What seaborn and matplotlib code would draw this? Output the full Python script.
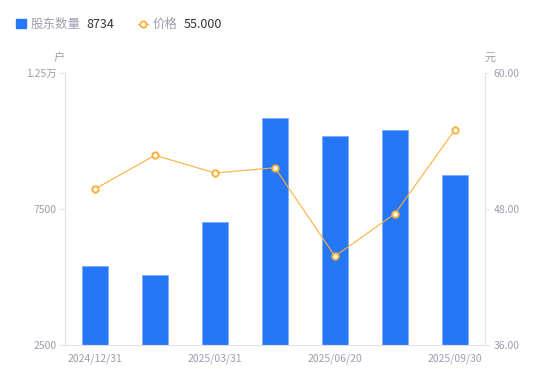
#!/usr/bin/env python3

import matplotlib
matplotlib.use("Agg")
import matplotlib.pyplot as plt
from matplotlib.patches import Patch
from matplotlib.lines import Line2D
from matplotlib.ticker import FixedLocator, FuncFormatter
import seaborn as sns

# Data
dates = ["2024/12/31", "2025/02/28", "2025/03/31", "2025/04/30",
         "2025/06/20", "2025/08/31", "2025/09/30"]
holders = [5415, 5074, 7011, 10835, 10184, 10393, 8734]
prices = [49.76, 52.74, 51.18, 51.64, 43.83, 47.59, 55.00]

left_ticks = [2500, 7500, 12500]
right_ticks = [36.0, 48.0, 60.0]

BLUE = "#2677f5"
ORANGE = "#fbb03b"
GREY = "#9d9db0"
DARK = "#333333"
SPINE = "#e3e3e8"

sns.set_style("white")
plt.rcParams['font.family'] = ['Noto Sans CJK SC', 'DejaVu Sans']

fig = plt.figure(figsize=(5.5, 3.81), dpi=100)
ax = fig.add_axes([65 / 550, 36 / 381, 420 / 550, 272 / 381])

# ==================== bars: shareholder count ====================
sns.barplot(x=dates, y=holders, color=BLUE, saturation=1, width=0.42,
            edgecolor="#7aaeff", linewidth=0.6, ax=ax)
ax.set_ylim(left_ticks[0], left_ticks[-1])
ax.set_xlim(-0.5, len(dates) - 0.5)

# ==================== line: price ====================
ax2 = ax.twinx()
sns.lineplot(x=dates, y=prices, sort=False, color=ORANGE, linewidth=0.8,
             marker="o", markersize=4.5, markerfacecolor="white",
             markeredgecolor=ORANGE, markeredgewidth=1.4, ax=ax2)
ax2.set_ylim(right_ticks[0], right_ticks[-1])
ax.set_xlim(-0.5, len(dates) - 0.5)

# axes styling
for a in (ax, ax2):
    for s in a.spines.values():
        s.set_visible(False)
    a.set_xlabel("")
    a.set_ylabel("")
    a.grid(False)

ax.spines["left"].set_visible(True)
ax.spines["left"].set_color(SPINE)
ax.spines["bottom"].set_visible(True)
ax.spines["bottom"].set_color(SPINE)
ax2.spines["right"].set_visible(True)
ax2.spines["right"].set_color(SPINE)

def fmt_left(v, pos):
    if v >= 10000:
        return f"{v / 10000:g}万"
    return f"{int(v)}"

ax.yaxis.set_major_locator(FixedLocator(left_ticks))
ax.yaxis.set_major_formatter(FuncFormatter(fmt_left))
ax2.yaxis.set_major_locator(FixedLocator(right_ticks))
ax2.yaxis.set_major_formatter(FuncFormatter(lambda v, p: f"{v:.2f}"))

ax.set_xticks(range(0, len(dates), 2))
ax.set_xticklabels(dates[::2])

ax.tick_params(axis="y", length=4, width=0.8, color=SPINE, pad=2,
               labelsize=7.5, labelcolor=GREY, left=True)
ax.tick_params(axis="x", length=0, pad=6, labelsize=7.5, labelcolor=GREY)
ax2.tick_params(axis="y", length=3, width=0.8, color=SPINE, pad=3,
                labelsize=7.5, labelcolor=GREY, right=True)

ax.text(-0.015, 1.055, "户", transform=ax.transAxes, ha="center",
        va="center", fontsize=8, color=GREY)
ax2.text(1.012, 1.055, "元", transform=ax2.transAxes, ha="center",
         va="center", fontsize=8, color=GREY)

# ==================== legend ====================
handles = [
    Patch(facecolor=BLUE, edgecolor=BLUE),
    Line2D([0], [0], color=ORANGE, linewidth=1, marker="o", markersize=4.5,
           markerfacecolor="white", markeredgecolor=ORANGE,
           markeredgewidth=1.3),
]
leg = fig.legend(handles, ["股东数量", "价格"], loc="upper left",
                 bbox_to_anchor=(5 / 550, 1 - 7 / 381), ncol=2,
                 frameon=False, fontsize=9, handlelength=0.75,
                 handleheight=0.75, handletextpad=0.4, columnspacing=4.6,
                 labelcolor=GREY)

fig.canvas.draw()
renderer = fig.canvas.get_renderer()
inv = fig.transFigure.inverted()
for txt, val in zip(leg.get_texts(), ["8734", "55.000"]):
    bb = txt.get_window_extent(renderer)
    x0, y0 = inv.transform((bb.x1 + 6, (bb.y0 + bb.y1) / 2))
    fig.text(x0, y0, val, ha="left", va="center", fontsize=9, color=DARK)

fig.savefig("out.png", dpi=100)
